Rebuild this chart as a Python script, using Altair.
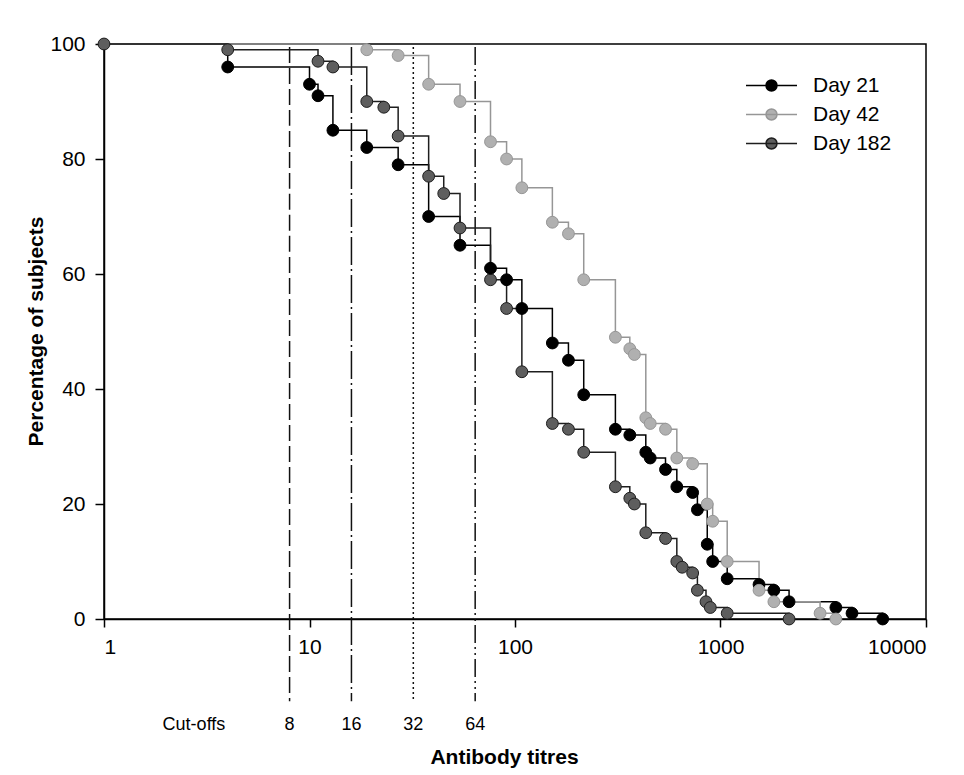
import altair as alt
import pandas as pd

groups = ["Day 21", "Day 42", "Day 182"]

day21_x = [4, 10, 11, 13, 19, 27, 38, 54, 76, 91, 108, 152, 182, 216, 308, 362, 433, 455, 540, 613,
           732, 772, 862, 916, 1078, 1540, 1819, 2156, 3643, 4365, 6155]
day21_y = [96, 93, 91, 85, 82, 79, 70, 65, 61, 59, 54, 48, 45, 39, 33, 32, 29, 28, 26, 23,
           22, 19, 13, 10, 7, 6, 5, 3, 2, 1, 0]

day42_x = [19, 27, 38, 54, 76, 91, 108, 152, 182, 216, 308, 362, 381, 433, 455, 540, 613, 732, 862, 916,
           1078, 1540, 1819, 3052, 3643]
day42_y = [99, 98, 93, 90, 83, 80, 75, 69, 67, 59, 49, 47, 46, 35, 34, 33, 28, 27, 20, 17,
           10, 5, 3, 1, 0]

day182_x = [1, 4, 11, 13, 19, 23, 27, 38, 45, 54, 76, 91, 108, 152, 182, 216, 308, 362, 381, 433,
            540, 613, 651, 732, 772, 850, 892, 1078, 2156]
day182_y = [100, 99, 97, 96, 90, 89, 84, 77, 74, 68, 59, 54, 43, 34, 33, 29, 23, 21, 20, 15,
            14, 10, 9, 8, 5, 3, 2, 1, 0]

start_x = 1
start_y = 100

cutoffs = [8, 16, 32, 64]
cutoff_names = ["8", "16", "32", "64"]
x_ticks = [1, 10, 100, 1000, 10000]
y_ticks = [0, 20, 40, 60, 80, 100]

series = {"Day 21": (day21_x, day21_y), "Day 42": (day42_x, day42_y), "Day 182": (day182_x, day182_y)}

line_rows = []
point_rows = []
z_rank = {"Day 182": 0, "Day 21": 1, "Day 42": 2}
for g in groups:
    xs, ys = series[g]
    if xs[0] != start_x:
        line_rows.append({"x": start_x, "y": start_y, "group": g})
    for xv, yv in zip(xs, ys):
        line_rows.append({"x": xv, "y": yv, "group": g})
        point_rows.append({"x": xv, "y": yv, "group": g, "z": z_rank[g]})
lines_df = pd.DataFrame(line_rows)
points_df = pd.DataFrame(point_rows).sort_values("z", kind="stable")
cut_df = pd.DataFrame({"x": cutoffs, "name": cutoff_names})

FONT = "Liberation Sans"

xscale = alt.Scale(type="log", domain=[1, 10000], nice=False)
yscale = alt.Scale(domain=[0, 100], nice=False, zero=False)

xaxis = alt.Axis(values=x_ticks, format="d", title="Antibody titres", grid=False,
                 tickSize=8, labelFontSize=21, labelPadding=9, labelFont=FONT,
                 titleFont=FONT, titleFontSize=21, titleFontWeight="bold",
                 titleX=400, titleY=138, titleBaseline="middle",
                 domainColor="black", tickColor="black", labelColor="black",
                 titleColor="black", domainWidth=1.5, tickWidth=1.5)
yaxis = alt.Axis(values=y_ticks, title="Percentage of subjects", grid=False,
                 tickSize=9, labelFontSize=21, labelPadding=10, labelFont=FONT,
                 titleFont=FONT, titleFontSize=21, titleFontWeight="bold",
                 titleX=-68, titleY=287, titleAngle=-90, titleBaseline="middle",
                 titleAlign="center",
                 domainColor="black", tickColor="black", labelColor="black",
                 titleColor="black", domainWidth=1.5, tickWidth=1.5)

stroke_scale = alt.Scale(domain=groups, range=["#000000", "#969696", "#1e1e1e"])
fill_scale = alt.Scale(domain=groups, range=["#000000", "#b0b0b0", "#5e5e5e"])

legend_path = "M-5.1,0H5.1M1.1,0A1.1,1.1,0,1,1,-1.1,0A1.1,1.1,0,1,1,1.1,0Z"


def make_legend():
    return alt.Legend(title=None, orient="none", legendX=657, legendY=31,
                      symbolType=legend_path, symbolSize=100, symbolStrokeWidth=1.5,
                      labelFontSize=21, labelFont=FONT, labelColor="black",
                      labelOffset=31, rowPadding=7, padding=0)


lines = alt.Chart(lines_df).mark_line(interpolate="step-after", strokeWidth=1.5).encode(
    x=alt.X("x:Q", scale=xscale, axis=xaxis),
    y=alt.Y("y:Q", scale=yscale, axis=yaxis),
    stroke=alt.Stroke("group:N", scale=stroke_scale, legend=make_legend()),
)

points = alt.Chart(points_df).mark_point(filled=True, opacity=1, shape="circle",
                                         size=140, strokeWidth=1).encode(
    x=alt.X("x:Q", scale=xscale),
    y=alt.Y("y:Q", scale=yscale),
    fill=alt.Fill("group:N", scale=fill_scale, legend=make_legend()),
    stroke=alt.Stroke("group:N", scale=stroke_scale, legend=make_legend()),
    order=alt.Order("z:Q"),
)

rules = alt.Chart(cut_df).mark_rule(strokeWidth=1.5, color="#111111").encode(
    x=alt.X("x:Q", scale=xscale),
    y=alt.datum(99.5),
    y2=alt.datum(-14.3),
    strokeDash=alt.StrokeDash("name:N", scale=alt.Scale(
        domain=cutoff_names,
        range=[[16, 5], [28, 4, 2, 4], [2, 3], [18, 4, 2, 4, 2, 4]]), legend=None),
)

cut_text = alt.Chart(cut_df).mark_text(font=FONT, fontSize=18, color="black",
                                       baseline="middle", align="center").encode(
    x=alt.X("x:Q", scale=xscale),
    y=alt.datum(-18.4),
    text="name:N",
)

cut_title = alt.Chart(pd.DataFrame({"t": ["Cut-offs"]})).mark_text(
    font=FONT, fontSize=18, color="black", baseline="middle", align="center").encode(
    x=alt.datum(2.74),
    y=alt.datum(-18.4),
    text="t:N",
)

chart = alt.layer(rules, lines, points, cut_text, cut_title).properties(
    width=822, height=575,
    padding={"left": 96, "top": 36, "right": 30, "bottom": 150},
    autosize=alt.AutoSizeParams(type="none"),
    background="white",
).configure_view(stroke="black", strokeWidth=1.5)

chart.save("out.html", embed_options={"renderer": "svg", "actions": False})
